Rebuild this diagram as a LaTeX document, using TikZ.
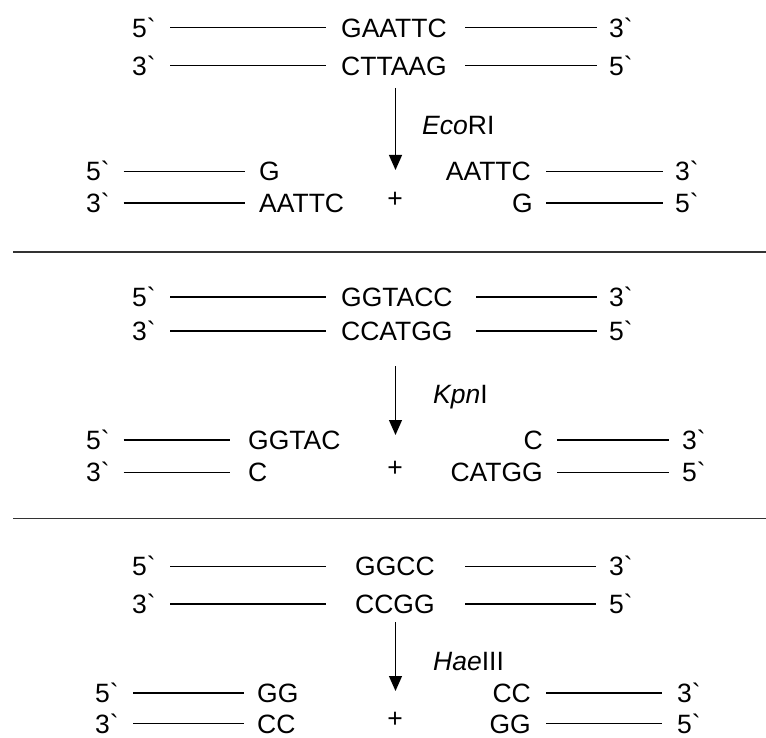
\documentclass[tikz,border=0pt]{standalone}
\usepackage{fontspec}
\setmainfont{Liberation Sans}[Ligatures=TeXOff]
\usetikzlibrary{arrows.meta}
\newcommand\gr{\char"60\relax}
\newcommand\strand[4]{\coordinate (#1s) at (#2,#4); \coordinate (#1e) at (#3,#4); \draw[strand] (#1s) -- (#1e);}
\newcommand\lbl[5]{\node[txt,anchor=#2] (#1) at (#3,#4) {#5};}
\begin{document}
\begin{tikzpicture}[x=1pt,y=-1pt,
  txt/.style={inner sep=0pt,font=\fontsize{26.5}{30}\selectfont},
  strand/.style={line width=1.2pt},
  sepline/.style={line width=1.5pt,draw=black!80},
  cut/.style={line width=1.2pt,-{Triangle[width=13pt,length=15pt]}}]
\useasboundingbox (0,0) rectangle (766,738);
% ---------- Section 1: EcoRI ----------
\lbl{a15}{base west}{132}{37.3}{5\gr}
\strand{a1l}{170}{326}{27.8}
\lbl{a1q}{base west}{341}{37.3}{GAATTC}
\strand{a1r}{465}{596.5}{27.8}
\lbl{a13}{base west}{609}{37.3}{3\gr}
\lbl{a23}{base west}{132}{75.3}{3\gr}
\strand{a2l}{170}{326}{65.8}
\lbl{a2q}{base west}{341}{75.3}{CTTAAG}
\strand{a2r}{465}{596.5}{65.8}
\lbl{a25}{base west}{609}{75.3}{5\gr}
\coordinate (a_cs) at (395.5,88); \coordinate (a_ce) at (395.5,170);
\draw[cut] (a_cs) -- (a_ce);
\lbl{aenz}{base west}{422}{134.5}{\textit{Eco}RI}
\lbl{a35}{base west}{86}{181}{5\gr}
\strand{a3l}{123.6}{245}{171.7}
\lbl{a3q}{base west}{259}{181}{G}
\lbl{a3p}{base east}{531}{181}{AATTC}
\strand{a3r}{546}{663}{171.7}
\lbl{a33}{base west}{675}{181}{3\gr}
\lbl{a43}{base west}{86}{212.3}{3\gr}
\strand{a4l}{123.6}{245}{203}
\lbl{a4q}{base west}{259}{212.3}{AATTC}
\node[txt,anchor=base] (aplus) at (395,207.3) {+};
\lbl{a4p}{base east}{533}{212.3}{G}
\strand{a4r}{546}{663}{203}
\lbl{a45}{base west}{675}{212.3}{5\gr}
% separator
\draw[sepline] (13,252) -- (766,252);
% ---------- Section 2: KpnI ----------
\lbl{b15}{base west}{132}{306.3}{5\gr}
\strand{b1l}{170}{326}{297}
\lbl{b1q}{base west}{341}{306.3}{GGTACC}
\strand{b1r}{476}{597}{297}
\lbl{b13}{base west}{609}{306.3}{3\gr}
\lbl{b23}{base west}{132}{340.3}{3\gr}
\strand{b2l}{170}{326}{331}
\lbl{b2q}{base west}{341}{340.3}{CCATGG}
\strand{b2r}{476}{597}{331}
\lbl{b25}{base west}{609}{340.3}{5\gr}
\coordinate (b_cs) at (395.5,366); \coordinate (b_ce) at (395.5,435);
\draw[cut] (b_cs) -- (b_ce);
\lbl{benz}{base west}{433}{403.5}{\textit{Kpn}I}
\lbl{b35}{base west}{86}{449.3}{5\gr}
\strand{b3l}{123.6}{229.6}{440}
\lbl{b3q}{base west}{248}{449.3}{GGTAC}
\lbl{b3p}{base east}{543}{449.3}{C}
\strand{b3r}{557}{669}{440}
\lbl{b33}{base west}{682}{449.3}{3\gr}
\lbl{b43}{base west}{86}{481.8}{3\gr}
\strand{b4l}{123.6}{229.6}{472.5}
\lbl{b4q}{base west}{248}{481.8}{C}
\node[txt,anchor=base] (bplus) at (395,476.3) {+};
\lbl{b4p}{base east}{543}{481.8}{CATGG}
\strand{b4r}{557}{669}{472.5}
\lbl{b45}{base west}{682}{481.8}{5\gr}
% separator
\draw[sepline] (13,518.7) -- (766,518.7);
% ---------- Section 3: HaeIII ----------
\lbl{c15}{base west}{132}{575.8}{5\gr}
\strand{c1l}{170}{326}{566.5}
\lbl{c1q}{base west}{355}{575.8}{GGCC}
\strand{c1r}{465}{596}{566.5}
\lbl{c13}{base west}{609}{575.8}{3\gr}
\lbl{c23}{base west}{132}{613.3}{3\gr}
\strand{c2l}{170}{326}{604}
\lbl{c2q}{base west}{355}{613.3}{CCGG}
\strand{c2r}{465}{596}{604}
\lbl{c25}{base west}{609}{613.3}{5\gr}
\coordinate (c_cs) at (395.5,622); \coordinate (c_ce) at (395.5,691);
\draw[cut] (c_cs) -- (c_ce);
\lbl{cenz}{base west}{433}{670}{\textit{Hae}III}
\lbl{c35}{base west}{95}{702.3}{5\gr}
\strand{c3l}{133}{244}{693}
\lbl{c3q}{base west}{257}{702.3}{GG}
\lbl{c3p}{base east}{531}{702.3}{CC}
\strand{c3r}{546}{662}{693}
\lbl{c33}{base west}{677}{702.3}{3\gr}
\lbl{c43}{base west}{95}{733}{3\gr}
\strand{c4l}{133}{244}{723.7}
\lbl{c4q}{base west}{257}{733}{CC}
\node[txt,anchor=base] (cplus) at (395,727) {+};
\lbl{c4p}{base east}{531}{733}{GG}
\strand{c4r}{546}{662}{723.7}
\lbl{c45}{base west}{677}{733}{5\gr}
\end{tikzpicture}
\end{document}
